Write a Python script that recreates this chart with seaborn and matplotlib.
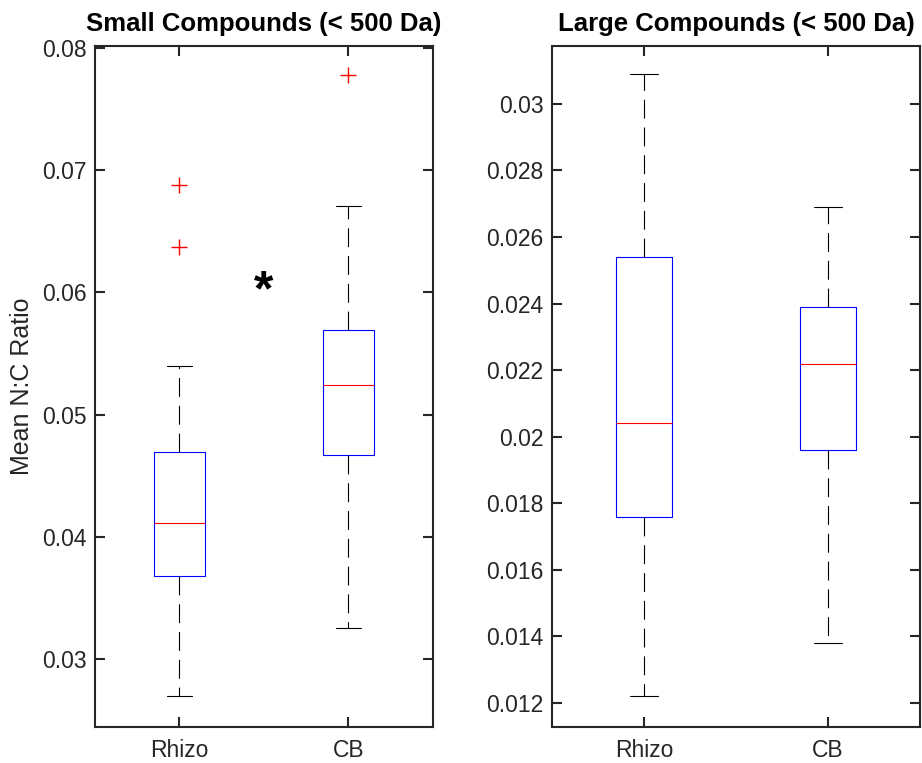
import matplotlib
matplotlib.use("Agg")
import matplotlib.pyplot as plt
import seaborn as sns
from matplotlib.ticker import FuncFormatter

groups = ["Rhizo", "CB"]

# small compounds
small_q1 = [0.0368, 0.0467]
small_med = [0.0411, 0.0524]
small_q3 = [0.0469, 0.0569]
small_lo = [0.0270, 0.0325]
small_hi = [0.0540, 0.0671]
small_out = [[0.0637, 0.0688], [0.0778]]
small_ticks = [0.03, 0.04, 0.05, 0.06, 0.07, 0.08]

# large compounds
large_q1 = [0.0176, 0.0196]
large_med = [0.0204, 0.0222]
large_q3 = [0.0254, 0.0239]
large_lo = [0.0122, 0.0138]
large_hi = [0.0309, 0.0269]
large_out = [[], []]
large_ticks = [0.012, 0.014, 0.016, 0.018, 0.02, 0.022, 0.024, 0.026, 0.028, 0.03]

sns.set_theme(style="ticks")
plt.rcParams['font.family'] = ['Liberation Sans', 'DejaVu Sans']

ink = '#262626'


def make_stats(q1, med, q3, lo, hi, out):
    stats = []
    for i in range(len(groups)):
        stats.append({'label': groups[i], 'q1': q1[i], 'med': med[i], 'q3': q3[i],
                      'whislo': lo[i], 'whishi': hi[i], 'fliers': out[i]})
    return stats


def draw_box(ax, stats, title, ticks, ylim):
    ax.bxp(stats, positions=[1, 2], widths=0.3, capwidths=0.15,
           boxprops=dict(color='blue', linewidth=0.8),
           medianprops=dict(color='red', linewidth=0.8),
           whiskerprops=dict(color='black', linewidth=0.8, linestyle=(0, (17, 8))),
           capprops=dict(color='black', linewidth=0.8),
           flierprops=dict(marker='+', markeredgecolor='red', markersize=12,
                           markeredgewidth=1.0, linestyle='none'))
    ax.set_xlim(0.5, 2.5)
    ax.set_ylim(*ylim)
    ax.set_yticks(ticks)
    ax.yaxis.set_major_formatter(FuncFormatter(lambda v, p: '%g' % v))
    ax.set_xticks([1, 2])
    ax.set_xticklabels(groups)
    ax.tick_params(direction='in', length=7, width=1.5, colors=ink, labelsize=16.5,
                   top=True, right=True, pad=6)
    ax.tick_params(axis='x', pad=9)
    for s in ax.spines.values():
        s.set_linewidth(1.5)
        s.set_color(ink)
    ax.set_title(title, fontsize=18.5, fontweight='bold', color='black', pad=11)


fig = plt.figure(figsize=(9.22, 7.63), dpi=100)
ax1 = fig.add_axes([0.103, 0.0472, 0.3666, 0.8925])
ax2 = fig.add_axes([0.5987, 0.0472, 0.399, 0.8925])

draw_box(ax1, make_stats(small_q1, small_med, small_q3, small_lo, small_hi, small_out),
         'Small Compounds (< 500 Da)', small_ticks, (0.02444, 0.08016))
ax1.set_ylabel('Mean N:C Ratio', fontsize=18, color=ink, labelpad=6)
ax1.text(1.5, 0.0600, '*', fontsize=36, fontweight='bold', ha='center', va='center',
         color='black')

draw_box(ax2, make_stats(large_q1, large_med, large_q3, large_lo, large_hi, large_out),
         'Large Compounds (< 500 Da)', large_ticks, (0.01128, 0.03174))

fig.savefig('out.png', dpi=100)
